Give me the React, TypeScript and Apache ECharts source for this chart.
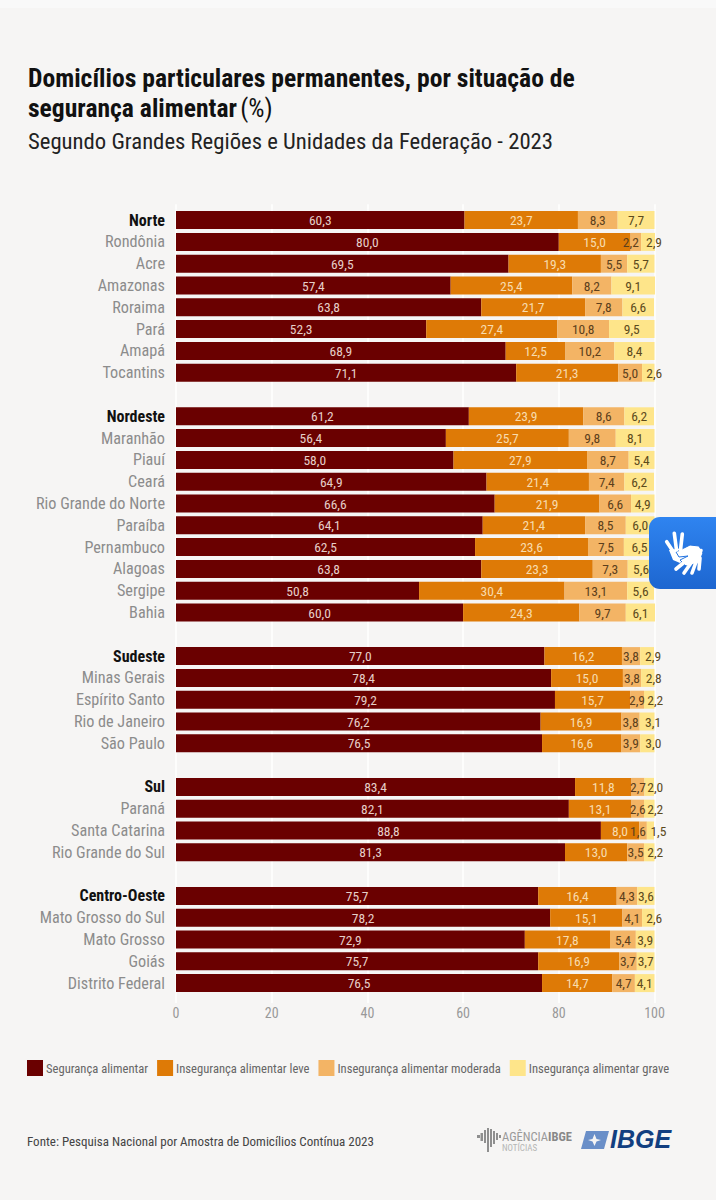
import React, { useEffect, useRef } from "react";
import * as echarts from "echarts";

const categories = [
  "Norte", "Rondônia", "Acre", "Amazonas", "Roraima", "Pará", "Amapá", "Tocantins", " ",
  "Nordeste", "Maranhão", "Piauí", "Ceará", "Rio Grande do Norte", "Paraíba", "Pernambuco", "Alagoas", "Sergipe", "Bahia", "  ",
  "Sudeste", "Minas Gerais", "Espírito Santo", "Rio de Janeiro", "São Paulo", "   ",
  "Sul", "Paraná", "Santa Catarina", "Rio Grande do Sul", "    ",
  "Centro-Oeste", "Mato Grosso do Sul", "Mato Grosso", "Goiás", "Distrito Federal",
];
const regions = ["Norte", "Nordeste", "Sudeste", "Sul", "Centro-Oeste"];
const seguranca = [60.3, 80.0, 69.5, 57.4, 63.8, 52.3, 68.9, 71.1, null,
  61.2, 56.4, 58.0, 64.9, 66.6, 64.1, 62.5, 63.8, 50.8, 60.0, null,
  77.0, 78.4, 79.2, 76.2, 76.5, null,
  83.4, 82.1, 88.8, 81.3, null,
  75.7, 78.2, 72.9, 75.7, 76.5];
const leve = [23.7, 15.0, 19.3, 25.4, 21.7, 27.4, 12.5, 21.3, null,
  23.9, 25.7, 27.9, 21.4, 21.9, 21.4, 23.6, 23.3, 30.4, 24.3, null,
  16.2, 15.0, 15.7, 16.9, 16.6, null,
  11.8, 13.1, 8.0, 13.0, null,
  16.4, 15.1, 17.8, 16.9, 14.7];
const moderada = [8.3, 2.2, 5.5, 8.2, 7.8, 10.8, 10.2, 5.0, null,
  8.6, 9.8, 8.7, 7.4, 6.6, 8.5, 7.5, 7.3, 13.1, 9.7, null,
  3.8, 3.8, 2.9, 3.8, 3.9, null,
  2.7, 2.6, 1.6, 3.5, null,
  4.3, 4.1, 5.4, 3.7, 4.7];
const grave = [7.7, 2.9, 5.7, 9.1, 6.6, 9.5, 8.4, 2.6, null,
  6.2, 8.1, 5.4, 6.2, 4.9, 6.0, 6.5, 5.6, 5.6, 6.1, null,
  2.9, 2.8, 2.2, 3.1, 3.0, null,
  2.0, 2.2, 1.5, 2.2, null,
  3.6, 2.6, 3.9, 3.7, 4.1];
const seriesNames = ["Segurança alimentar", "Insegurança alimentar leve", "Insegurança alimentar moderada", "Insegurança alimentar grave"];
const seriesValues = [seguranca, leve, moderada, grave];
const seriesColors = ["#6a0000", "#de7a06", "#f3b465", "#fee58a"];
const labelColors = ["#e6cfc8", "#f8dcae", "#5c3f1c", "#5c4a1c"];
const FONT = "'Roboto Condensed', sans-serif";

echarts.graphic.registerShape("ibgeFlag", echarts.graphic.extendPath("M5 0 L28 0 L23 18 L0 18 Z M13.5 3 L11.5 8 L7 9 L11.5 10.5 L13.5 15 L15.5 10.5 L20 9 L15.5 8 Z", {}));
echarts.graphic.registerShape("handFingers", echarts.graphic.extendPath("M666.7 541.7 L673.5 552 M674.3 533.3 L676.5 550 M682.3 534 L680.5 550 M701 550.5 L694 552 M687 560 L676 569 M691 563 L684 573 M696 562 L692 573 M700 558 L699 569", {}));
echarts.graphic.registerShape("handPalmA", echarts.graphic.extendPath("M669 550 L684 548 L687 556 L680 563 L673 560 Z", {}));
echarts.graphic.registerShape("handPalmB", echarts.graphic.extendPath("M676 552 L690 545 L699 546 L703 553 L699 563 L686 566 L680 560 L688 556 L679 557 Z", {}));
echarts.graphic.registerShape("ageBars", echarts.graphic.extendPath("M0 7 L3 7 L3 10 L0 10 Z M3.5 5 L6 5 L6 13 L3.5 13 Z M7 2 L9 2 L9 15 L7 15 Z M10 0 L12 0 L12 24 L10 24 Z M13 1 L15 1 L15 19 L13 19 Z M16 3 L18 3 L18 16 L16 16 Z M19 5 L21 5 L21 12 L19 12 Z M22 7 L24 7 L24 10 L22 10 Z", {}));

// Narrow end segments have their labels nudged apart, as in the source chart.
const labelNudge = (seriesIndex: number, v: number): number => {
  if (seriesIndex === 2 && v < 2.3) return -5;
  if (seriesIndex === 3 && v < 2) return 8;
  if (seriesIndex === 3 && v < 3.2) return 6;
  return 0;
};

export default function App() {
  const ref = useRef<HTMLDivElement>(null);
  useEffect(() => {
    const chart = echarts.init(ref.current!, null, { renderer: "svg" });
    chart.setOption({
      animation: false,
      backgroundColor: "#f6f5f4",
      grid: { left: 176, top: 209.2, width: 478.5, height: 784.8, containLabel: false },
      legend: {
        left: 27, top: 1060, width: 689, itemWidth: 16, itemHeight: 16, itemGap: 9,
        icon: "rect", selectedMode: false, padding: 0,
        data: seriesNames,
        textStyle: { fontFamily: FONT, fontSize: 12.6, color: "#666", padding: [0, 0, 0, -2] },
      },
      xAxis: [
        {
          type: "value", min: 0, max: 100, interval: 20,
          axisLine: { show: false },
          axisTick: { show: true, length: 9, lineStyle: { color: "#ffffff", width: 1.5 } },
          splitLine: { show: true, lineStyle: { color: "#ffffff", width: 1.5 } },
          axisLabel: { fontFamily: FONT, fontSize: 14, color: "#999", margin: 12 },
        },
        {
          type: "value", position: "top", min: 0, max: 100, interval: 20,
          axisLine: { show: false },
          axisTick: { show: true, length: 5, lineStyle: { color: "#ffffff", width: 1.5 } },
          splitLine: { show: false },
          axisLabel: { show: false },
        },
      ],
      yAxis: {
        type: "category", inverse: true, data: categories,
        axisLine: { show: false }, axisTick: { show: false }, splitLine: { show: false },
        axisLabel: {
          interval: 0, margin: 11, align: "right",
          formatter: (v: string) => (!v.trim() ? "" : regions.includes(v) ? `{r|${v}}` : `{s|${v}}`),
          rich: {
            r: { fontFamily: FONT, fontSize: 16, fontWeight: "bold", color: "#111" },
            s: { fontFamily: FONT, fontSize: 16.2, color: "#8c8c8c" },
          },
        },
      },
      series: seriesNames.map((name, i) => ({
        name, type: "bar", stack: "total", barWidth: 18, clip: false,
        data: seriesValues[i].map((v) => (v == null ? null : {
          value: v,
          label: { offset: [labelNudge(i, v), 0] },
        })),
        itemStyle: { color: seriesColors[i] },
        label: {
          show: true, position: "inside",
          fontFamily: FONT, fontSize: 13.5, color: labelColors[i],
          formatter: (p: any) => (p.value == null ? "" : Number(p.value).toFixed(1).replace(".", ",")),
        },
      })),
      graphic: [
        { type: "rect", silent: true, shape: { x: 0, y: 0, width: 716, height: 8 }, style: { fill: "#f9f9f9" } },
        { type: "text", left: 28, top: 65, style: { text: "Domicílios particulares permanentes, por situação de", font: `bold 25.6px ${FONT}`, fill: "#111" } },
        { type: "text", left: 28, top: 95, style: { rich: { a: { font: `bold 25.6px ${FONT}`, fill: "#111" }, b: { font: `25.6px ${FONT}`, fill: "#111" } }, text: "{a|segurança alimentar} {b|(%)}" } },
        { type: "text", left: 28, top: 130, style: { text: "Segundo Grandes Regiões e Unidades da Federação - 2023", font: `22.7px ${FONT}`, fill: "#222" } },
        { type: "text", left: 27, top: 1135, style: { text: "Fonte: Pesquisa Nacional por Amostra de Domicílios Contínua 2023", font: `13px ${FONT}`, fill: "#444" } },
        { type: "rect", z: 100, shape: { x: 649, y: 517, width: 90, height: 72, r: 11 }, style: { fill: new echarts.graphic.LinearGradient(0, 0, 0, 1, [{ offset: 0, color: "#2f84f0" }, { offset: 1, color: "#1d66d0" }]) } },
        { type: "handPalmA", z: 101, style: { fill: "#fff" } },
        { type: "handPalmB", z: 102, style: { fill: "#fff", stroke: "#2474e0", lineWidth: 1 } },
        { type: "handFingers", z: 103, style: { fill: "none", stroke: "#fff", lineWidth: 3.6, lineCap: "round" } },
        { type: "ageBars", x: 477, y: 1128, style: { fill: "#8f8f8f" } },
        { type: "text", left: 502, top: 1130, style: { rich: { a: { font: `12.5px ${FONT}`, fill: "#9a9a9a" }, b: { font: `bold 12.5px ${FONT}`, fill: "#888" } }, text: "{a|AGÊNCIA}{b|IBGE}" } },
        { type: "text", left: 502, top: 1143, style: { text: "NOTÍCIAS", font: `9px ${FONT}`, fill: "#b5b5b5" } },
        { type: "ibgeFlag", x: 581, y: 1131, style: { fill: "#6a8fc8" } },
        { type: "text", left: 610, top: 1126, style: { text: "IBGE", font: "italic bold 25px 'Liberation Sans', sans-serif", fill: "#123f80" } },
      ],
    });
    return () => chart.dispose();
  }, []);
  return <div ref={ref} style={{ position: "absolute", left: 0, top: 0, width: 716, height: 1200 }} />;
}
